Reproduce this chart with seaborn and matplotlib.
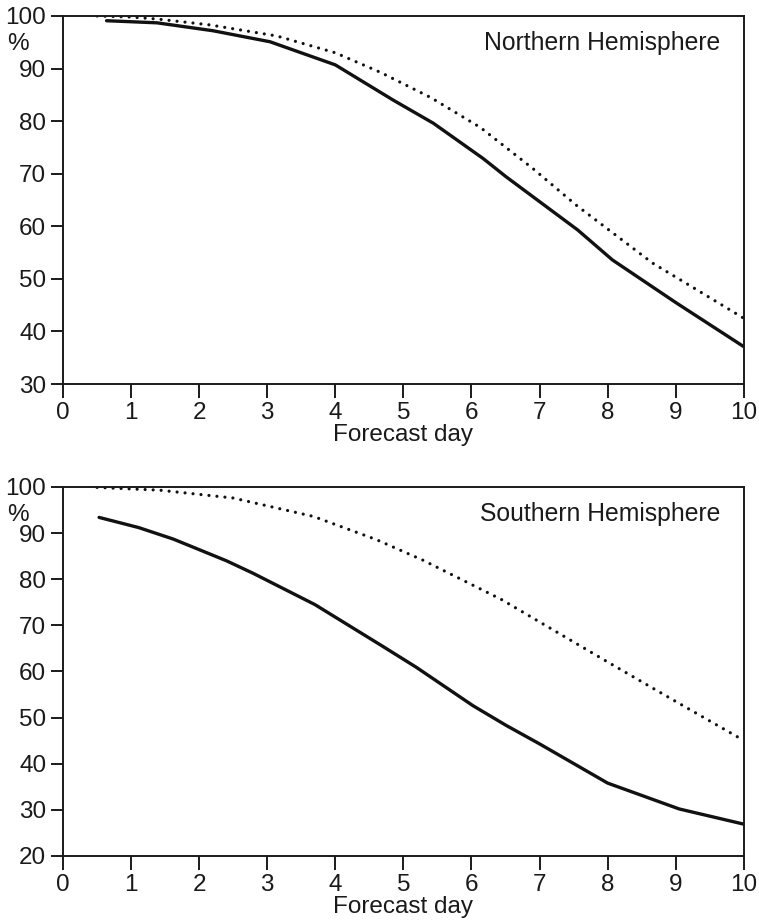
import numpy as np
import pandas as pd
import matplotlib
matplotlib.use("Agg")
import matplotlib.pyplot as plt
import seaborn as sns

# Northern Hemisphere: solid and dotted curves (forecast day, %)
nh_solid_day = [0.64, 1.38, 2.2, 3.04, 4.0, 4.85, 5.44, 6.17, 6.51, 7.56, 8.07, 9.0, 10.0]
nh_solid_val = [99.1, 98.7, 97.2, 95.1, 90.7, 84.0, 79.6, 72.9, 69.4, 59.3, 53.6, 45.5, 37.1]
nh_dot_day = [0.5, 1.0, 1.4, 2.16, 3.14, 4.0, 4.66, 5.4, 6.13, 6.9, 7.54, 8.66, 9.3, 10.0]
nh_dot_val = [100.0, 99.8, 99.4, 98.3, 96.2, 93.0, 89.3, 84.5, 78.8, 71.0, 64.0, 53.0, 48.0, 42.5]

# Southern Hemisphere
sh_solid_day = [0.53, 1.11, 1.62, 2.4, 2.79, 3.7, 4.68, 5.19, 6.02, 6.51, 7.0, 8.0, 9.05, 10.0]
sh_solid_val = [93.4, 91.2, 88.7, 84.0, 81.3, 74.5, 65.6, 60.9, 52.6, 48.3, 44.3, 35.8, 30.2, 26.9]
sh_dot_day = [0.5, 1.42, 2.5, 3.68, 4.6, 5.29, 6.44, 7.2, 8.03, 9.0, 9.91, 10.0]
sh_dot_val = [99.9, 99.3, 97.6, 93.6, 88.6, 84.1, 75.6, 69.0, 61.8, 53.5, 45.8, 45.3]

panels = [
    ("Northern Hemisphere", nh_solid_day, nh_solid_val, nh_dot_day, nh_dot_val, 30, range(30, 101, 10)),
    ("Southern Hemisphere", sh_solid_day, sh_solid_val, sh_dot_day, sh_dot_val, 20, range(20, 101, 10)),
]

sns.set_style("ticks")
plt.rcParams["font.family"] = ["Liberation Sans", "DejaVu Sans"]
plt.rcParams["axes.linewidth"] = 1.4
plt.rcParams["xtick.major.width"] = 1.4
plt.rcParams["ytick.major.width"] = 1.4
plt.rcParams["xtick.major.size"] = 10
plt.rcParams["ytick.major.size"] = 9
plt.rcParams["axes.edgecolor"] = "#1a1a1a"

fig = plt.figure(figsize=(7.59, 9.24), dpi=100)
boxes = [[0.083, 0.5844, 0.897, 0.3983], [0.083, 0.0736, 0.897, 0.3994]]

for (name, sd, sv, dd, dv, ymin, yticks), box in zip(panels, boxes):
    ax = fig.add_axes(box)
    solid = pd.DataFrame({"day": sd, "pct": sv})
    dotted = pd.DataFrame({"day": dd, "pct": dv})
    sns.lineplot(data=dotted, x="day", y="pct", ax=ax, color="#111111", lw=2.3,
                 linestyle=(0, (0.01, 2.5)), dash_capstyle="round")
    sns.lineplot(data=solid, x="day", y="pct", ax=ax, color="#111111", lw=2.4)
    ax.set_xlim(0, 10)
    ax.set_ylim(ymin, 100)
    ax.set_xticks(range(0, 11))
    ax.set_yticks(list(yticks))
    ax.tick_params(labelsize=17.5, colors="#1a1a1a", pad=3)
    ax.set_xlabel("Forecast day", fontsize=17.5, labelpad=0, color="#1a1a1a")
    ax.set_ylabel("")
    ax.text(-0.066, 0.925, "%", transform=ax.transAxes, ha="center", va="center",
            fontsize=17.5, color="#1a1a1a")
    ax.text(0.965, 0.927, name, transform=ax.transAxes, ha="right", va="center",
            fontsize=17.8, color="#1a1a1a")
    for s in ax.spines.values():
        s.set_visible(True)

fig.savefig("out.png", dpi=100)
